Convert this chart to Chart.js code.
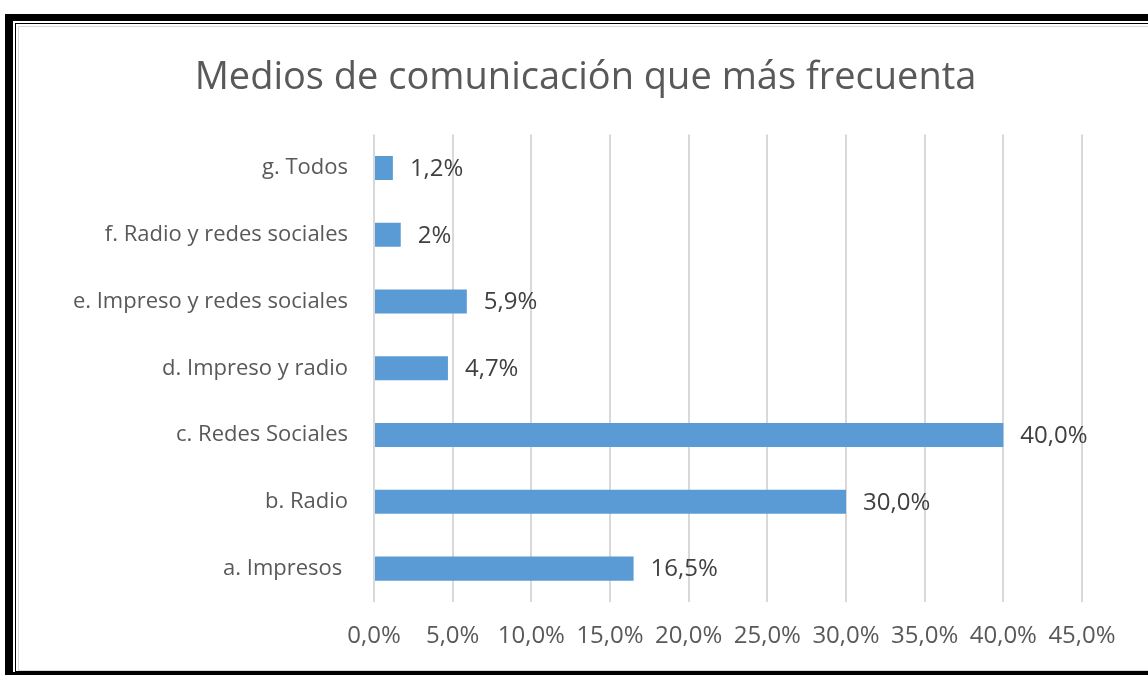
<!DOCTYPE html>
<html>
<head>
<meta charset="utf-8">
<script src="https://cdn.jsdelivr.net/npm/chart.js@4/dist/chart.umd.min.js"></script>
<style>
  html, body { margin: 0; padding: 0; background: #fff; width: 1148px; height: 675px; overflow: hidden; }
  .box { position: absolute; }
  #frame { left: 5px; top: 14px; width: 1200px; height: 700px; background: #000; }
  #gap { left: 13px; top: 21px; width: 1200px; height: 651px; background: #fff; }
  #line { left: 15px; top: 23px; width: 1200px; height: 649px; background: #000; }
  #page { left: 16px; top: 24px; width: 1200px; height: 647px; background: #fff; }
  #chartBox { left: 18px; top: 26px; width: 1200px; height: 643px; border: 1px solid #d9d9d9; border-right: none; background: #fff; }
  #wrap { position: absolute; left: 19px; top: 27px; width: 1129px; height: 642px; }
</style>
</head>
<body>
<div class="box" id="frame"></div>
<div class="box" id="gap"></div>
<div class="box" id="line"></div>
<div class="box" id="page"></div>
<div class="box" id="chartBox"></div>
<div id="wrap"><canvas id="barChart" width="1129" height="642"></canvas></div>
<script>
var categories = ['a. Impresos ', 'b. Radio', 'c. Redes Sociales', 'd. Impreso y radio', 'e. Impreso y redes sociales', 'f. Radio y redes sociales', 'g. Todos'];
var values = [16.5, 30.0, 40.0, 4.7, 5.9, 1.7, 1.2];
var valueLabels = ['16,5%', '30,0%', '40,0%', '4,7%', '5,9%', '2%', '1,2%'];
var tickLabels = ['0,0%', '5,0%', '10,0%', '15,0%', '20,0%', '25,0%', '30,0%', '35,0%', '40,0%', '45,0%'];

var fontFamily = '"Open Sans", "DejaVu Sans", sans-serif';

// draws the value next to the end of each bar
var barLabels = {
    id: 'barLabels',
    afterLayout: function (chart) {
        // left padding only centres the title; let the y labels use that space
        chart.scales.y.left = 0;
    },
    afterDatasetsDraw: function (chart) {
        var ctx = chart.ctx;
        var meta = chart.getDatasetMeta(0);
        ctx.save();
        ctx.font = '24px ' + fontFamily;
        ctx.fillStyle = '#404040';
        ctx.textAlign = 'left';
        ctx.textBaseline = 'middle';
        meta.data.forEach(function (bar, i) {
            ctx.fillText(valueLabels[i], bar.x + 17, bar.y + 1);
        });
        ctx.restore();
    }
};

var barChart = new Chart(document.getElementById('barChart'), {
    type: 'bar',
    data: {
        labels: categories,
        datasets: [{
            data: values,
            backgroundColor: '#5b9bd5',
            borderWidth: 0,
            categoryPercentage: 1,
            barPercentage: 0.36
        }]
    },
    options: {
        indexAxis: 'y',
        responsive: false,
        animation: false,
        layout: { padding: { left: 70, right: 66, top: 0, bottom: 0 } },
        plugins: {
            legend: { display: false },
            tooltip: { enabled: false },
            title: {
                display: true,
                text: 'Medios de comunicación que más frecuenta',
                color: '#595959',
                font: { family: fontFamily, size: 38, weight: 'normal' },
                padding: { top: 28, bottom: 34 }
            }
        },
        scales: {
            x: {
                min: 0,
                max: 45,
                ticks: {
                    stepSize: 5,
                    color: '#595959',
                    font: { family: fontFamily, size: 24 },
                    padding: 20,
                    callback: function (value, index) { return tickLabels[index]; }
                },
                grid: { color: '#d9d9d9', lineWidth: 2, drawTicks: false },
                border: { display: false },
                afterFit: function (scale) { scale.height = 67; }
            },
            y: {
                reverse: true,
                ticks: {
                    color: '#595959',
                    font: { family: fontFamily, size: 22 },
                    padding: 26
                },
                grid: { display: false, drawTicks: false },
                border: { display: false },
                afterFit: function (scale) { scale.width = 285; }
            }
        }
    },
    plugins: [barLabels]
});
</script>
</body>
</html>
